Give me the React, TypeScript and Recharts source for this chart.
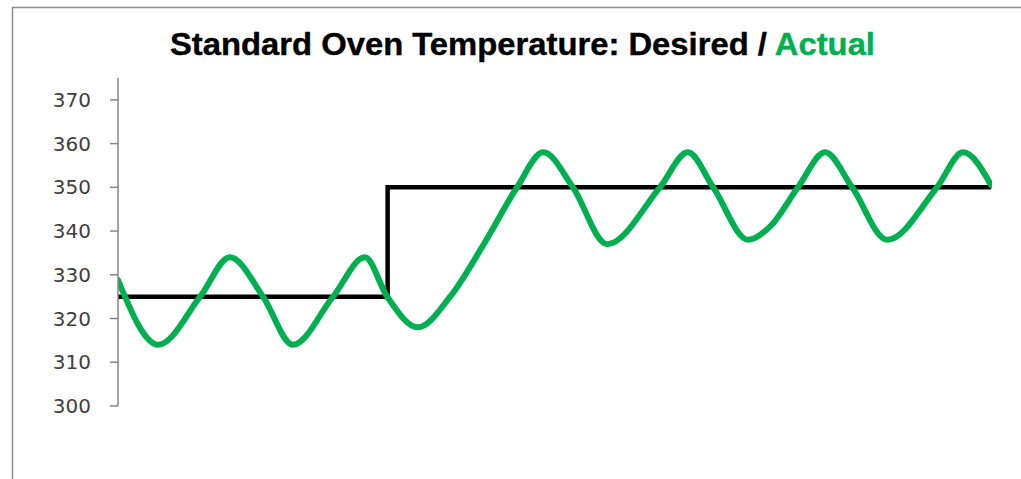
import React from 'react';
import { LineChart, Line, XAxis, YAxis } from 'recharts';

const TITLE_MAIN = 'Standard Oven Temperature: Desired / ';
const TITLE_ACTUAL = 'Actual';

const yTicks = [300, 310, 320, 330, 340, 350, 360, 370];

// Desired set point (step change)
const desiredX = [0, 61.7, 199.8];
const desiredY = [325, 350, 350];

// Actual oven temperature
const actualX = [0, 9.2, 18.8, 25.6, 33.2, 40.0, 49.2, 56.5, 61.6, 68.6, 76.0, 84.0, 91.3, 97.3, 104.1, 111.9, 124.0, 130.4, 136.2, 144.2, 149.2, 155.6, 161.8, 168.0, 176.0, 187.4, 193.4, 199.8];
const actualY = [328.8, 314, 325, 334, 325, 314, 325, 334, 325, 318, 325, 337.5, 350, 358, 350, 337, 350, 358, 350, 338, 341, 350, 358, 350, 338, 350, 358, 350.5];

const desiredData = desiredX.map((x, i) => ({ x, y: desiredY[i] }));
const actualData = actualX.map((x, i) => ({ x, y: actualY[i] }));

export default function App() {
  return (
    <div style={{ position: 'absolute', left: 0, top: 0, width: 1021, height: 479, background: '#fff', overflow: 'hidden' }}>
      <LineChart width={1021} height={479} margin={{ top: 78, right: 29, bottom: 73, left: 0 }}>
        <XAxis type="number" dataKey="x" domain={[0, 200]} hide allowDataOverflow />
        <YAxis
          type="number"
          domain={[300, 375]}
          ticks={yTicks}
          width={118}
          axisLine={{ stroke: '#868686', strokeWidth: 1.5 }}
          tickLine={{ stroke: '#868686', strokeWidth: 1.5 }}
          tickSize={8}
          tickMargin={19}
          tick={{ fill: '#404040', fontSize: 20, fontFamily: 'DejaVu Sans' }}
          allowDataOverflow
        />
        <Line data={desiredData} dataKey="y" type="stepAfter" stroke="#000" strokeWidth={4.5} dot={false} isAnimationActive={false} />
        <Line data={actualData} dataKey="y" type="monotone" stroke="#00B050" strokeWidth={6} dot={false} isAnimationActive={false} strokeLinecap="round" strokeLinejoin="round" />
      </LineChart>
      <svg width={1021} height={479} style={{ position: 'absolute', left: 0, top: 0, pointerEvents: 'none' }}>
        <line x1={12.5} y1={7} x2={12.5} y2={479} stroke="#8c8c8c" strokeWidth={1.5} />
        <line x1={12} y1={7.5} x2={1021} y2={7.5} stroke="#8c8c8c" strokeWidth={1.5} />
        <text x={170} y={55} fontFamily="Liberation Sans, Arial, sans-serif" fontWeight="bold" fontSize={31} textLength={705} lengthAdjust="spacingAndGlyphs" stroke="#000" strokeWidth={0.4}>
          <tspan fill="#000">{TITLE_MAIN}</tspan>
          <tspan fill="#00B050" stroke="#00B050">{TITLE_ACTUAL}</tspan>
        </text>
      </svg>
    </div>
  );
}
